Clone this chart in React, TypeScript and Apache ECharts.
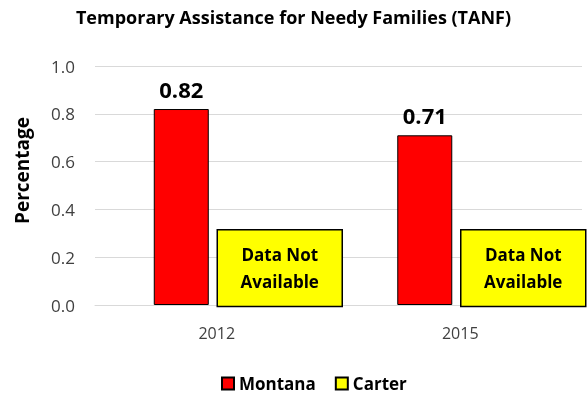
import React, { useEffect, useRef } from "react";
import * as echarts from "echarts";

const categories = ["2012", "2015"];
const montanaValues = [0.82, 0.71];
const carterValues: (number | null)[] = [null, null];
const noteHeights = [0.315, 0.315];
const noteText = "Data Not\nAvailable";
const yTicks = { min: 0, max: 1, interval: 0.2 };

const FONT = "'Open Sans', 'Noto Sans', sans-serif";

export default function App() {
  const ref = useRef<HTMLDivElement>(null);
  useEffect(() => {
    if (!ref.current) return;
    const chart = echarts.init(ref.current, null, { renderer: "svg" });
    chart.setOption({
      animation: false,
      textStyle: { fontFamily: FONT },
      title: {
        text: "Temporary Assistance for Needy Families (TANF)",
        left: "center",
        top: 3,
        textStyle: { fontSize: 18, fontWeight: "bold", color: "#000", fontFamily: FONT },
      },
      legend: {
        bottom: 4,
        left: 216,
        itemWidth: 12,
        itemHeight: 12,
        itemGap: 19,
        data: [
          { name: "Montana", icon: "rect" },
          { name: "Carter", icon: "rect" },
        ],
        textStyle: { fontSize: 17, fontWeight: "bold", color: "#000", fontFamily: FONT },
      },
      grid: { left: 95, right: 5, top: 66, bottom: 96 },
      xAxis: {
        type: "category",
        data: categories,
        axisLine: { lineStyle: { color: "#d9d9d9", width: 1 } },
        axisTick: { show: false },
        axisLabel: { fontSize: 16, color: "#404040", margin: 20, fontFamily: FONT },
      },
      yAxis: {
        type: "value",
        min: yTicks.min,
        max: yTicks.max,
        interval: yTicks.interval,
        name: "Percentage",
        nameLocation: "middle",
        nameGap: 64,
        nameTextStyle: {
          fontSize: 19,
          fontWeight: "bold",
          color: "#000",
          fontFamily: FONT,
          padding: [0, 0, 0, 30],
        },
        axisLine: { show: false },
        axisTick: { show: false },
        axisLabel: {
          fontSize: 17,
          color: "#404040",
          margin: 20,
          fontFamily: FONT,
          formatter: (v: number) => v.toFixed(1),
        },
        splitLine: { lineStyle: { color: "#d9d9d9", width: 1 } },
      },
      series: [
        {
          name: "Montana",
          type: "bar",
          data: montanaValues,
          barWidth: 55,
          barGap: "29%",
          itemStyle: { color: "#ff0000", borderColor: "#000", borderWidth: 1 },
          label: {
            show: true,
            position: "top",
            distance: 9,
            fontSize: 22,
            fontWeight: "bold",
            color: "#000",
            fontFamily: FONT,
            formatter: (p: any) => p.value.toFixed(2),
          },
        },
        {
          name: "Carter",
          type: "bar",
          data: carterValues,
          barWidth: 55,
          itemStyle: { color: "#ffff00", borderColor: "#000", borderWidth: 1 },
        },
        {
          name: "Carter note",
          type: "custom",
          clip: false,
          z: 5,
          data: noteHeights.map((h, i) => [i, h]),
          renderItem: (params: any, api: any) => {
            const idx = api.value(0);
            const top = api.coord([idx, api.value(1)]);
            const base = api.coord([idx, 0]);
            const x0 = base[0] + 0.5;
            const w = 125;
            const y0 = top[1];
            const h = base[1] - top[1] + 1.5;
            return {
              type: "group",
              children: [
                {
                  type: "rect",
                  shape: { x: x0, y: y0, width: w, height: h },
                  style: { fill: "#ffff00", stroke: "#000", lineWidth: 1.5 },
                },
                {
                  type: "text",
                  style: {
                    text: noteText,
                    x: x0 + w / 2,
                    y: y0 + h / 2,
                    align: "center",
                    verticalAlign: "middle",
                    fontSize: 17,
                    fontWeight: "bold",
                    fontFamily: FONT,
                    lineHeight: 27,
                    fill: "#000",
                  },
                },
              ],
            };
          },
        },
      ],
    });
    return () => chart.dispose();
  }, []);
  return (
    <div
      ref={ref}
      style={{ position: "fixed", left: 0, top: 0, width: 587, height: 401 }}
    />
  );
}
